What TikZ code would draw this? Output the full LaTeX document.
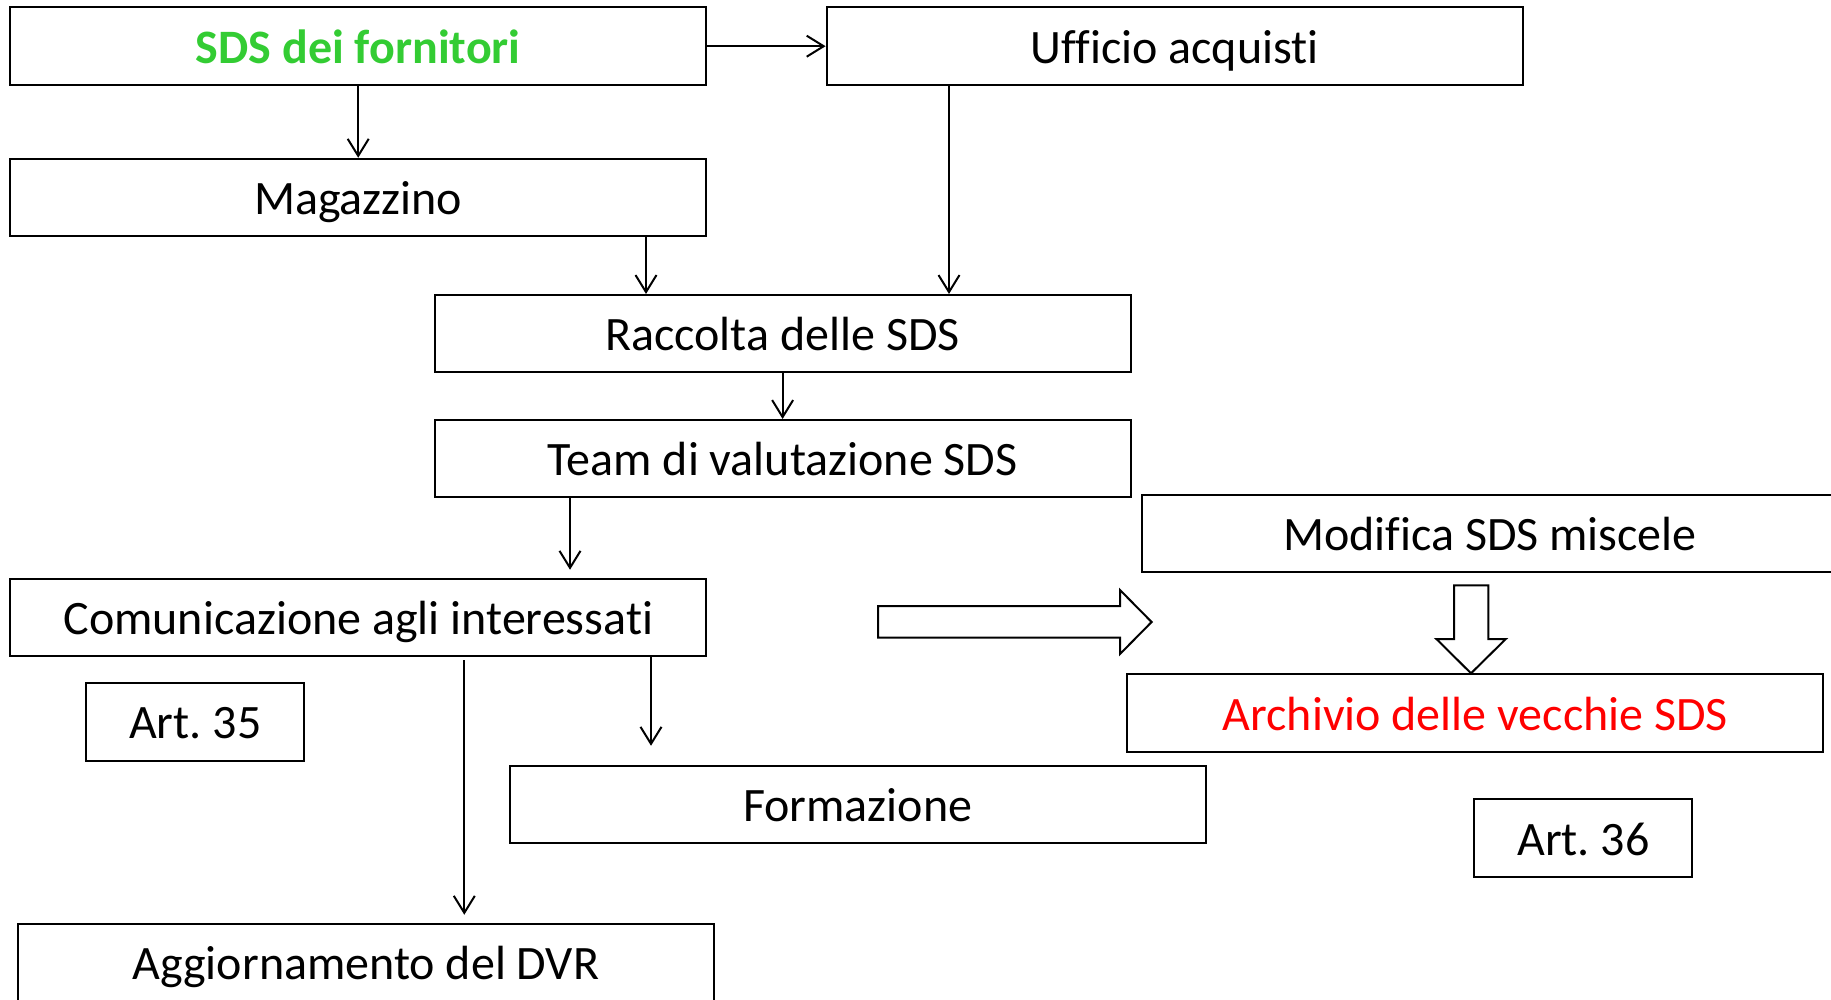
\documentclass[tikz,border=0pt]{standalone}
\usepackage{fontspec}
\setmainfont{Carlito}[Ligatures={NoCommon}]
\usetikzlibrary{arrows.meta}
\definecolor{sdsgreen}{RGB}{51,204,51}
\definecolor{archred}{RGB}{255,0,0}
\begin{document}
\frenchspacing
\begin{tikzpicture}[x=1pt,y=-1pt,
  box/.style={draw=black,line width=2pt,minimum width=696pt,minimum height=77.5pt,inner sep=0pt,
    font=\fontsize{48}{56}\selectfont,text height=34pt,text depth=0pt},
  artbox/.style={box,minimum width=218pt,minimum height=78pt},
  arr/.style={line width=2pt,-{Straight Barb[length=17pt,width=21pt,line width=2pt]}},
  blockarrow/.style={draw=black,line width=2pt,fill=white,line join=miter}]
\useasboundingbox (0,0) rectangle (1831,999);
\clip (0,0) rectangle (1831,999);
\node[box,text=sdsgreen,font=\fontsize{48}{56}\selectfont\bfseries] (sds) at (358.2,46.2) {SDS dei fornitori};
\node[box] (uff) at (1174.6,46.2) {Ufficio acquisti};
\node[box] (mag) at (358.2,197.5) {Magazzino};
\node[box] (racc) at (782.6,333.7) {Raccolta delle SDS};
\node[box] (team) at (782.6,458.7) {Team di valutazione SDS};
\node[box] (com) at (358.4,617.5) {Comunicazione agli interessati};
\node[box] (mod) at (1490,533.7) {Modifica SDS miscele};
\node[box,text=archred] (arch) at (1475.3,713) {Archivio delle vecchie SDS};
\node[box] (form) at (857.7,804.5) {Formazione};
\node[artbox] (art35) at (195.3,721.7) {Art. 35};
\node[artbox] (art36) at (1583.3,838) {Art. 36};
\node[box] (agg) at (365.9,962.5) {Aggiornamento del DVR};
\coordinate (xm) at (646,0);
\coordinate (xu) at (949,0);
\coordinate (xt) at (570,0);
\coordinate (xa) at (464.3,0);
\coordinate (xf) at (651,0);
\draw[arr] (sds.east) -- (uff.west);
\draw[arr] (sds.south) -- (mag.north);
\draw[arr] (mag.south -| xm) -- (racc.north -| xm);
\draw[arr] (uff.south -| xu) -- (racc.north -| xu);
\draw[arr] (racc.south) -- (team.north);
\draw[arr,shorten >=8pt] (team.south -| xt) -- (com.north -| xt);
\draw[arr,shorten <=3pt,shorten >=8pt] (com.south -| xa) -- (agg.north -| xa);
\draw[arr,shorten >=19pt] (com.south -| xf) -- (form.north -| xf);
\draw[blockarrow] (878,606) -- (1120,606) -- (1120,590) -- (1151.6,622) -- (1120,654) -- (1120,637.7) -- (878,637.7) -- cycle;
\draw[blockarrow] (1454,585.3) -- (1488.3,585.3) -- (1488.3,639) -- (1505.8,639) -- (1471,673.3) -- (1436.4,639) -- (1454,639) -- cycle;
\end{tikzpicture}
\end{document}
